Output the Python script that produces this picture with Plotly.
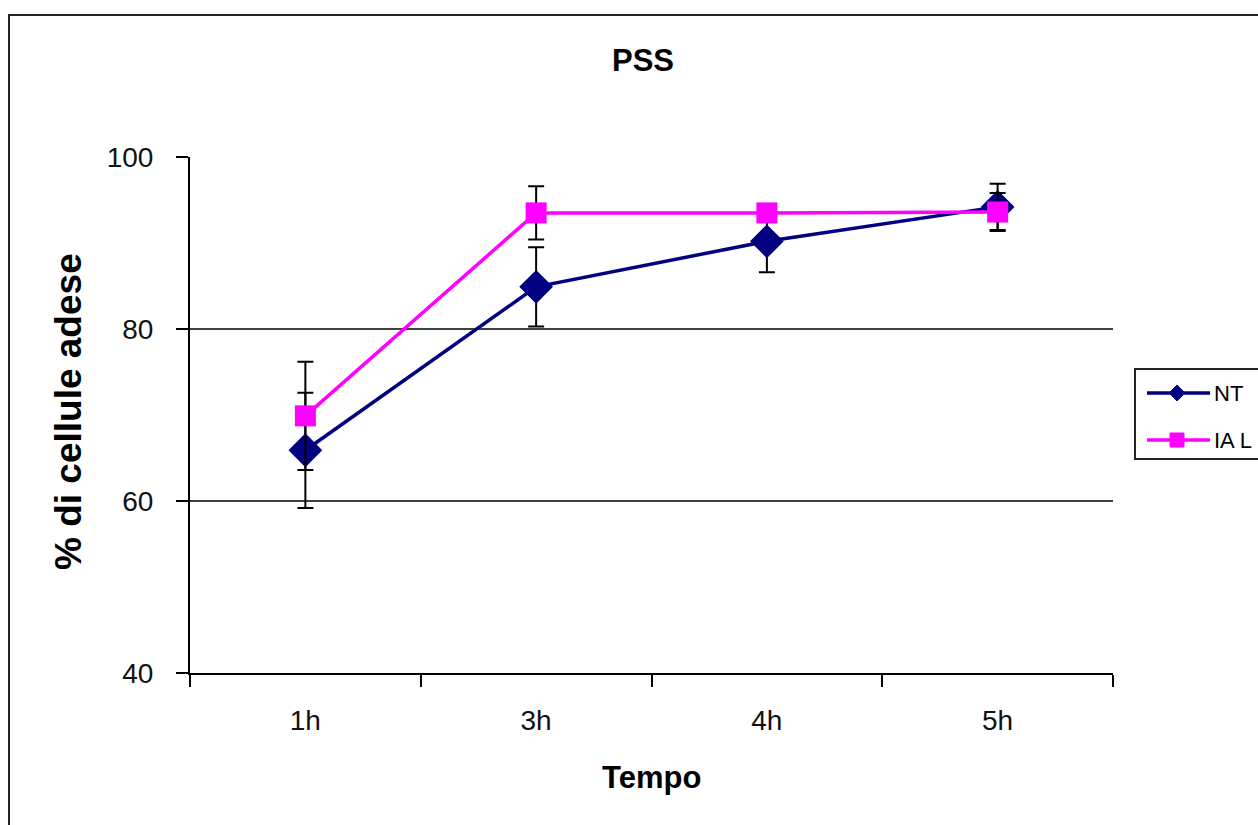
import plotly.graph_objects as go

# Adhesion over time (PSS)
times = ["1h", "3h", "4h", "5h"]
nt_mean = [65.9, 84.9, 90.2, 94.2]
nt_err = [6.7, 4.6, 3.6, 2.7]
ial_mean = [69.9, 93.5, 93.5, 93.6]
ial_err = [6.3, 3.1, 1.0, 2.2]
y_ticks = [40, 60, 80, 100]
grid_levels = [60, 80]

NAVY = "#000080"
MAGENTA = "#FF00FF"
FONT = "Liberation Sans"

W, H = 1258, 825
ML, MR, MT, MB = 190, 145, 157, 152
PW, PH = W - ML - MR, H - MT - MB


def px(x):
    return (x - ML) / PW


def py(y):
    return (H - MB - y) / PH


fig = go.Figure()

fig.add_trace(go.Scatter(
    x=times, y=nt_mean, name="NT", mode="lines+markers",
    line=dict(color=NAVY, width=3.5),
    marker=dict(symbol="diamond", size=26, color=NAVY),
    error_y=dict(type="data", array=nt_err, visible=True,
                 color="black", thickness=2, width=8),
    showlegend=False,
))
fig.add_trace(go.Scatter(
    x=times, y=ial_mean, name="IA L", mode="lines+markers",
    line=dict(color=MAGENTA, width=3.5),
    marker=dict(symbol="square", size=21, color=MAGENTA),
    error_y=dict(type="data", array=ial_err, visible=True,
                 color="black", thickness=2, width=8),
    showlegend=False,
))

shapes = []
for lv in grid_levels:
    shapes.append(dict(type="line", xref="paper", yref="y", x0=0, x1=1,
                       y0=lv, y1=lv, line=dict(color="black", width=1.5),
                       layer="below"))

# outer chart frame
shapes.append(dict(type="rect", xref="paper", yref="paper",
                   x0=px(9), x1=px(1320), y0=py(15), y1=py(900),
                   line=dict(color="#222", width=2)))

# legend box and swatches
shapes.append(dict(type="rect", xref="paper", yref="paper",
                   x0=px(1135), x1=px(1320), y0=py(369), y1=py(459),
                   line=dict(color="#222", width=2), fillcolor="white"))
for yc, col in [(393, NAVY), (440, MAGENTA)]:
    shapes.append(dict(type="line", xref="paper", yref="paper",
                       x0=px(1147), x1=px(1210), y0=py(yc), y1=py(yc),
                       line=dict(color=col, width=3.5)))
cx, cy, r = 1177, 393, 8
shapes.append(dict(type="path", xref="paper", yref="paper",
                   path=f"M{px(cx - r)},{py(cy)} L{px(cx)},{py(cy - r)} "
                        f"L{px(cx + r)},{py(cy)} L{px(cx)},{py(cy + r)} Z",
                   fillcolor=NAVY, line=dict(color=NAVY, width=1)))
cx, cy, r = 1177, 440, 7
shapes.append(dict(type="rect", xref="paper", yref="paper",
                   x0=px(cx - r), x1=px(cx + r), y0=py(cy + r), y1=py(cy - r),
                   fillcolor=MAGENTA, line=dict(color=MAGENTA, width=1)))

annotations = [
    dict(text="<b>PSS</b>", x=px(643), y=py(61), xref="paper", yref="paper",
         showarrow=False, xanchor="center", yanchor="middle",
         font=dict(family=FONT, size=31, color="black")),
    dict(text="<b>Tempo</b>", x=px(651), y=py(777), xref="paper", yref="paper",
         showarrow=False, xanchor="center", yanchor="middle",
         font=dict(family=FONT, size=31, color="black")),
    dict(text="<b>% di cellule adese</b>", x=px(68), y=py(412),
         xref="paper", yref="paper", textangle=-90,
         showarrow=False, xanchor="center", yanchor="middle",
         font=dict(family=FONT, size=37, color="black")),
    dict(text="NT", x=px(1212), y=py(393), xref="paper", yref="paper",
         showarrow=False, xanchor="left", yanchor="middle",
         font=dict(family=FONT, size=22, color="black")),
    dict(text="IA L", x=px(1212), y=py(440), xref="paper", yref="paper",
         showarrow=False, xanchor="left", yanchor="middle",
         font=dict(family=FONT, size=22, color="black")),
]

fig.update_layout(
    width=W, height=H, autosize=False,
    margin=dict(l=ML, r=MR, t=MT, b=MB, pad=0),
    paper_bgcolor="white", plot_bgcolor="white",
    showlegend=False,
    shapes=shapes, annotations=annotations,
    font=dict(family=FONT, color="#111"),
    xaxis=dict(type="category", categoryorder="array", categoryarray=times,
               range=[-0.5, 3.5], tickson="boundaries", ticks="outside",
               ticklen=12, tickwidth=2, tickcolor="black",
               showline=True, linecolor="black", linewidth=2,
               showgrid=False, zeroline=False,
               tickfont=dict(family=FONT, size=28, color="#111"),
               ticklabelstandoff=21),
    yaxis=dict(range=[40, 100], tickvals=y_ticks, ticks="outside",
               ticklen=12, tickwidth=2, tickcolor="black",
               showline=True, linecolor="black", linewidth=2,
               showgrid=False, zeroline=False,
               tickfont=dict(family=FONT, size=28, color="#111"),
               ticklabelstandoff=17),
)

fig.write_html("out.html")
